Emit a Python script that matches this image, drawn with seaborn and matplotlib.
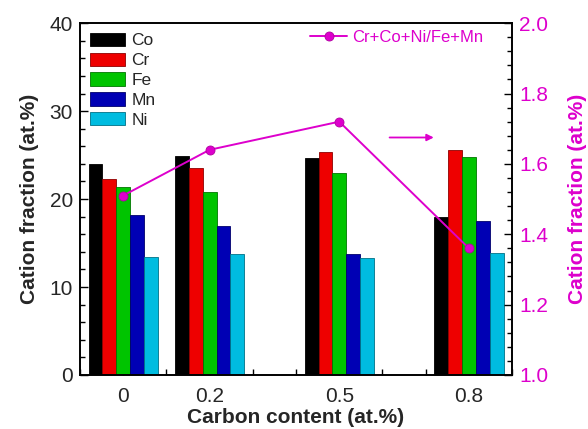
import numpy as np
import pandas as pd
import matplotlib
matplotlib.use("Agg")
import matplotlib.pyplot as plt
import matplotlib.colors as mcolors
from matplotlib.ticker import MultipleLocator, FixedLocator, FuncFormatter
from matplotlib.lines import Line2D
import seaborn as sns

# Carbon content of the alloys (at.%)
carbon = [0.0, 0.2, 0.5, 0.8]
carbon_labels = ["0", "0.2", "0.5", "0.8"]

# Cation fractions (at.%) per element
elements = ["Co", "Cr", "Fe", "Mn", "Ni"]
co = [24.0, 24.9, 24.7, 18.0]
cr = [22.3, 23.5, 25.3, 25.6]
fe = [21.4, 20.8, 23.0, 24.8]
mn = [18.2, 16.9, 13.7, 17.5]
ni = [13.4, 13.7, 13.3, 13.9]

# (Cr+Co+Ni)/(Fe+Mn) ratio
ratio = [1.51, 1.64, 1.72, 1.36]
ratio_label = "Cr+Co+Ni/Fe+Mn"

palette = {"Co": "#000000", "Cr": "#ee0000", "Fe": "#00c400",
           "Mn": "#0000b4", "Ni": "#00bce0"}
magenta = "#dd00cc"

df = pd.DataFrame({
    "carbon": np.repeat(carbon, len(elements)),
    "element": elements * len(carbon),
    "fraction": np.ravel(np.column_stack([co, cr, fe, mn, ni])),
})

sns.set_style("ticks")
plt.rcParams["font.family"] = ["Liberation Sans", "DejaVu Sans"]

fig = plt.figure(figsize=(5.88, 4.29), dpi=100)
ax = fig.add_axes([0.136, 0.126, 0.735, 0.820])

sns.barplot(data=df, x="carbon", y="fraction", hue="element",
            hue_order=elements, palette=palette, native_scale=True,
            width=0.8, errorbar=None, linewidth=0.6, saturation=1, ax=ax)

# darker outline on each bar
for p in ax.patches:
    fc = np.array(mcolors.to_rgb(p.get_facecolor()))
    p.set_edgecolor(tuple(fc * 0.6))

ax.set_xlim(-0.1, 0.9)
ax.set_ylim(0, 40)
ax.xaxis.set_major_locator(FixedLocator(np.round(np.arange(-0.1, 0.91, 0.1), 2)))
ax.xaxis.set_major_formatter(FuncFormatter(
    lambda v, pos: carbon_labels[carbon.index(round(v, 2))] if round(v, 2) in carbon else ""))
ax.yaxis.set_major_locator(MultipleLocator(10))
ax.yaxis.set_minor_locator(MultipleLocator(2))
ax.tick_params(axis="both", which="both", direction="in", labelsize=15, color="black")
ax.tick_params(axis="y", which="major", length=6, width=1, pad=5)
ax.tick_params(axis="y", which="minor", length=3.5, width=1)
ax.tick_params(axis="x", which="major", length=4, width=1, pad=9)
for s in ax.spines.values():
    s.set_linewidth(1.2)
    s.set_color("black")

ax.set_xlabel("Carbon content (at.%)", fontsize=15, fontweight="bold", labelpad=1)
ax.set_ylabel("Cation fraction (at.%)", fontsize=15, fontweight="bold", labelpad=8)

leg = ax.legend(loc="upper left", frameon=False, fontsize=12.5,
                handlelength=2.05, handleheight=0.8, labelspacing=0.24,
                handletextpad=0.35, borderaxespad=0.2, borderpad=0.35)

# ratio on the secondary axis
ax2 = ax.twinx()
sns.lineplot(x=carbon, y=ratio, ax=ax2, color=magenta, marker="o",
             markersize=6.5, markeredgecolor="#b000a0", markeredgewidth=0.6,
             linewidth=1.4, legend=False)
ax2.set_ylim(1.0, 2.0)
ax2.yaxis.set_major_locator(MultipleLocator(0.2))
ax2.yaxis.set_minor_locator(MultipleLocator(0.04))
ax2.yaxis.set_major_formatter(FuncFormatter(lambda v, pos: f"{v:.1f}"))
ax2.tick_params(axis="y", which="both", direction="in", labelsize=15,
                labelcolor=magenta, color="black")
ax2.tick_params(axis="y", which="major", length=6, width=1, pad=5)
ax2.tick_params(axis="y", which="minor", length=3.5, width=1)
ax2.set_ylabel("Cation fraction (at.%)", fontsize=15, fontweight="bold",
               color=magenta, labelpad=14)
for s in ax2.spines.values():
    s.set_linewidth(1.2)
    s.set_color("black")

line_handle = Line2D([], [], color=magenta, marker="o", markersize=6.5,
                     markeredgecolor="#b000a0", markeredgewidth=0.6, linewidth=1.4)
leg2 = ax2.legend([line_handle], [ratio_label], loc="upper right",
                  bbox_to_anchor=(0.945, 0.995), frameon=False,
                  fontsize=12, handlelength=2.25, handletextpad=0.3,
                  borderaxespad=0.0, borderpad=0.3)
for t in leg2.get_texts():
    t.set_color(magenta)

# arrow pointing to the right-hand axis
ax.annotate("", xy=(0.725, 27.0), xytext=(0.61, 27.0),
            arrowprops=dict(arrowstyle="-|>", color=magenta, lw=1.3,
                            mutation_scale=10))

fig.savefig("out.png", dpi=100)
